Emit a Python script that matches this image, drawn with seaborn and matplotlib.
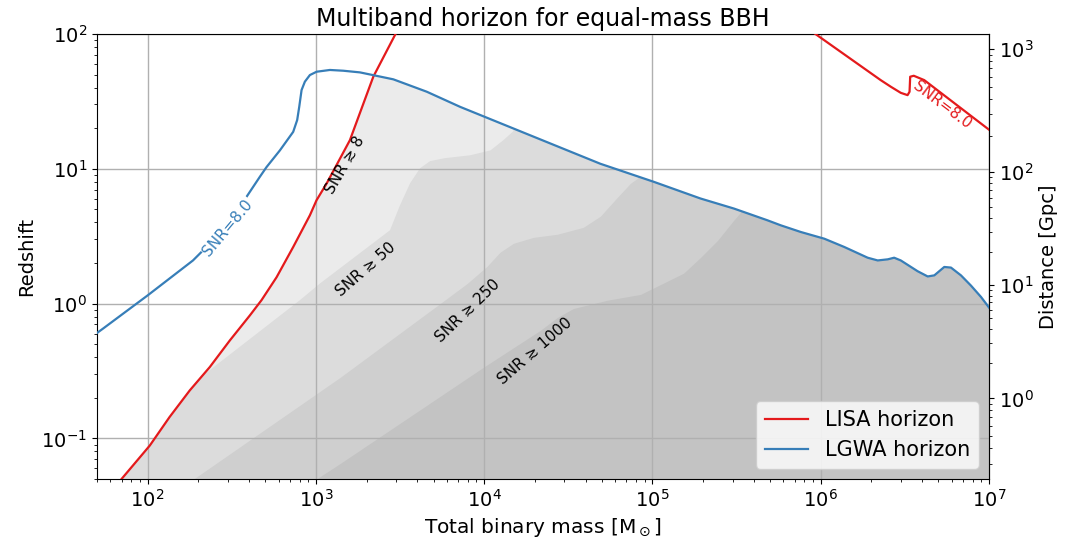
import numpy as np
import matplotlib
matplotlib.use("Agg")
import matplotlib.pyplot as plt
from matplotlib.ticker import NullFormatter
import seaborn as sns

# ---------------- data ----------------
# LISA horizon (SNR = 8), low-mass branch
lisa_lo_mass = [60, 70, 103, 135, 178, 234, 308, 405, 475, 584, 733, 921, 1009, 1158,
                1592, 2193, 2951, 3100]
lisa_lo_z = [0.039, 0.050, 0.0885, 0.144, 0.227, 0.338, 0.533, 0.817, 1.06, 1.57, 2.63, 4.52,
             5.85, 7.78, 16.3, 48.2, 98.3, 110]
# LISA horizon, high-mass branch
lisa_hi_mass = [8.5e5, 9.3e5, 2.27e6, 2.61e6, 2.99e6, 3.28e6, 3.37e6, 3.40e6, 3.57e6, 4.12e6, 1.0e7]
lisa_hi_z = [108, 100, 45.5, 40.6, 36.6, 35.2, 37.3, 48.2, 49.0, 45.5, 19.5]

# LGWA horizon (SNR = 8)
lgwa_mass = [45, 54.2, 100, 186, 294, 464, 509, 611, 733, 774, 796, 822, 860, 921, 1010,
             1211, 1455, 1828, 2885, 4560, 7200, 3.12e4, 4.90e4, 1.02e5, 1.93e5, 3.05e5,
             4.82e5, 5.78e5, 7.60e5, 1.05e6, 1.38e6, 1.90e6, 2.18e6, 2.50e6, 2.73e6, 2.99e6,
             3.76e6, 4.32e6, 4.73e6, 5.42e6, 5.94e6, 6.81e6, 7.81e6, 8.96e6, 1.03e7]
lgwa_z = [0.55, 0.651, 1.15, 2.09, 3.70, 8.71, 10.3, 13.7, 18.8, 23.0, 28.8, 38.4, 44.3, 49.6,
          52.5, 54.1, 53.4, 51.9, 46.1, 37.3, 28.8, 13.7, 10.9, 8.0, 6.02, 5.07,
          4.15, 3.81, 3.40, 3.03, 2.63, 2.19, 2.09, 2.13, 2.19, 2.09,
          1.74, 1.59, 1.62, 1.87, 1.85, 1.62, 1.36, 1.12, 0.89]

# multiband SNR region boundaries (upper-left edge of each filled region)
snr50_mass = [35, 268, 803, 1057, 2755, 3162, 3630, 4160, 4770, 5860, 8260, 1.09e4, 1.30e4,
              1.49e4, 1.7e4]
snr50_z = [0.05, 0.366, 1.06, 1.41, 3.50, 5.37, 7.82, 10.1, 11.4, 12.0, 12.6, 13.7, 16.3,
           19.0, 60]
snr250_mass = [185, 1390, 5470, 7920, 1.04e4, 1.24e4, 1.49e4, 1.96e4, 2.72e4, 3.88e4, 4.90e4,
               6.19e4, 7.40e4, 8.15e4, 8.8e4]
snr250_z = [0.0494, 0.283, 1.00, 1.41, 1.89, 2.40, 2.80, 3.10, 3.27, 3.68, 4.45,
            6.15, 7.81, 8.51, 30]
snr1000_mass = [1000, 1390, 9860, 2.15e4, 2.72e4, 3.39e4, 5.40e4, 8.49e4, 1.53e5, 1.93e5,
                2.44e5, 3.04e5, 3.34e5, 3.6e5]
snr1000_z = [0.0497, 0.065, 0.336, 0.632, 0.789, 0.920, 1.06, 1.17, 1.68, 2.20,
             2.95, 4.15, 4.76, 20]

region_labels = ["SNR ≳ 8", "SNR ≳ 50", "SNR ≳ 250", "SNR ≳ 1000"]
region_colors = ["#ebebeb", "#dcdcdc", "#cfcfcf", "#c3c3c3"]
distance_ticks = [1, 10, 100, 1000]

# ---------------- cosmology for the distance axis ----------------
H0, Om = 67.7, 0.3075
c_kms = 299792.458
zz = np.concatenate([[0.0], np.logspace(-5, 3.5, 6000)])
invE = 1.0 / np.sqrt(Om * (1 + zz) ** 3 + (1 - Om))
dc = np.concatenate([[0.0], np.cumsum(0.5 * (invE[1:] + invE[:-1]) * np.diff(zz))]) * c_kms / H0
dl_gpc = (1 + zz) * dc / 1000.0
lz, ld = np.log10(zz[1:]), np.log10(dl_gpc[1:])


def z_to_dl(z):
    z = np.clip(np.asarray(z, dtype=float), 1e-5, None)
    return 10 ** np.interp(np.log10(z), lz, ld)


def dl_to_z(d):
    d = np.clip(np.asarray(d, dtype=float), 1e-10, None)
    return 10 ** np.interp(np.log10(d), ld, lz)


# ---------------- figure ----------------
fig = plt.figure(figsize=(10.69, 5.38), dpi=100)
ax = fig.add_axes([0.0907, 0.1097, 0.8345, 0.8271])
ax.set_xscale("log")
ax.set_yscale("log")

RED = "#e41a1c"
BLUE = "#377eb8"

# filled SNR regions
grid_m = np.logspace(np.log10(40), 7.1, 3000)
lg = np.log10(grid_m)
red_lo = np.interp(lg, np.log10(lisa_lo_mass), np.log10(lisa_lo_z), left=-3, right=4)
blue_l = np.interp(lg, np.log10(lgwa_mass), np.log10(lgwa_z), left=-3, right=-3)
floor = -3.0
bounds = [None, (snr50_mass, snr50_z), (snr250_mass, snr250_z), (snr1000_mass, snr1000_z)]
for b, col in zip(bounds, region_colors):
    up = np.minimum(red_lo, blue_l)
    if b is not None:
        bl = np.interp(lg, np.log10(b[0]), np.log10(b[1]), left=-3, right=4)
        up = np.minimum(up, bl)
    up = np.maximum(up, floor)
    ax.fill_between(grid_m, 10 ** floor, 10 ** up, color=col, lw=0, zorder=0.6)

# horizon lines
sns.lineplot(x=lisa_lo_mass, y=lisa_lo_z, color=RED, lw=1.6, sort=False, estimator=None,
             label="LISA horizon", ax=ax, zorder=3)
sns.lineplot(x=lisa_hi_mass, y=lisa_hi_z, color=RED, lw=1.6, sort=False, estimator=None,
             ax=ax, zorder=3)
sns.lineplot(x=lgwa_mass, y=lgwa_z, color=BLUE, lw=1.6, sort=False, estimator=None,
             label="LGWA horizon", ax=ax, zorder=3)

ax.set_xlim(50, 1e7)
ax.set_ylim(0.05, 100)
ax.grid(True, which="major", color="#b0b0b0", lw=1.0)

# contour-style labels
lab_fs = 11
ax.text(1490, 10.6, region_labels[0], rotation=60, ha="center", va="center",
        rotation_mode="anchor", fontsize=lab_fs, zorder=4)
ax.text(1986, 1.79, region_labels[1], rotation=41, ha="center", va="center",
        rotation_mode="anchor", fontsize=lab_fs, zorder=4)
ax.text(7920, 0.89, region_labels[2], rotation=44, ha="center", va="center",
        rotation_mode="anchor", fontsize=lab_fs, zorder=4)
ax.text(2.01e4, 0.449, region_labels[3], rotation=41, ha="center", va="center",
        rotation_mode="anchor", fontsize=lab_fs, zorder=4)
ax.text(299, 3.68, "SNR=8.0", rotation=50, ha="center", va="center", color=BLUE,
        rotation_mode="anchor", fontsize=lab_fs, zorder=4,
        bbox=dict(facecolor="white", edgecolor="none", pad=0.8))
ax.text(5.25e6, 29.7, "SNR=8.0", rotation=-37, ha="center", va="center", color=RED,
        rotation_mode="anchor", fontsize=lab_fs, zorder=4)

ax.set_title("Multiband horizon for equal-mass BBH", fontsize=17)
ax.set_xlabel(r"Total binary mass [M$_\odot$]", fontsize=14.5)
ax.set_ylabel("Redshift", fontsize=14)
ax.tick_params(axis="both", which="major", labelsize=14)

sec = ax.secondary_yaxis("right", functions=(z_to_dl, dl_to_z))
sec.set_ylabel("Distance [Gpc]", fontsize=14)
sec.set_yticks(distance_ticks)
sec.set_yticklabels([rf"$10^{{{int(np.log10(t))}}}$" for t in distance_ticks])
sec.tick_params(axis="y", which="major", labelsize=14)
sec.yaxis.set_minor_formatter(NullFormatter())

ax.legend(loc="lower right", fontsize=15, handlelength=2.1)

fig.savefig("out.png", dpi=100)
